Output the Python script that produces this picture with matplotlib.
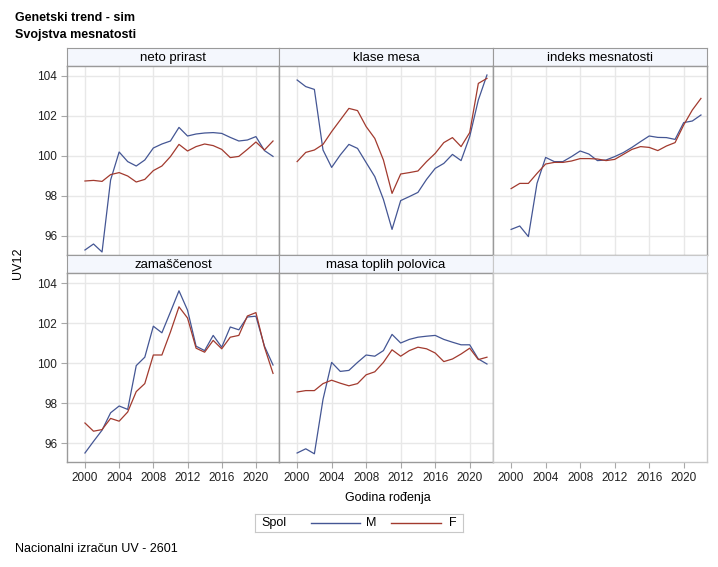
import matplotlib
matplotlib.use('Agg')
import matplotlib.pyplot as plt
from matplotlib.lines import Line2D

plt.rcParams['font.family'] = ['Liberation Sans', 'DejaVu Sans']

# Data
years = list(range(2000, 2023))
traits = ['neto prirast', 'klase mesa', 'indeks mesnatosti',
          'zamaščenost', 'masa toplih polovica']

neto_m = [95.3, 95.6, 95.2, 98.8, 100.2, 99.72, 99.5, 99.8, 100.4, 100.6, 100.75, 101.43,
          101.0, 101.1, 101.15, 101.17, 101.13, 100.93, 100.75, 100.8, 100.97, 100.27, 99.98]
neto_f = [98.75, 98.78, 98.73, 99.07, 99.17, 99.0, 98.7, 98.83, 99.27, 99.5, 99.97, 100.58,
          100.25, 100.47, 100.6, 100.52, 100.33, 99.92, 99.98, 100.33, 100.7, 100.3, 100.75]
klase_m = [103.8, 103.47, 103.33, 100.3, 99.43, 100.05, 100.58, 100.38, 99.67, 98.97, 97.83, 96.33,
           97.77, 97.97, 98.18, 98.83, 99.38, 99.63, 100.08, 99.77, 100.97, 102.8, 104.05]
klase_f = [99.72, 100.18, 100.3, 100.58, 101.22, 101.8, 102.38, 102.27, 101.47, 100.88, 99.8, 98.13,
           99.1, 99.17, 99.25, 99.72, 100.13, 100.67, 100.92, 100.47, 101.17, 103.63, 103.88]
indeks_m = [96.33, 96.5, 95.97, 98.63, 99.93, 99.72, 99.72, 99.97, 100.25, 100.1, 99.77, 99.8,
            99.97, 100.17, 100.43, 100.72, 101.0, 100.93, 100.92, 100.83, 101.67, 101.75, 102.05]
indeks_f = [98.37, 98.63, 98.63, 99.13, 99.6, 99.68, 99.68, 99.75, 99.87, 99.87, 99.85, 99.77,
            99.83, 100.08, 100.33, 100.47, 100.43, 100.27, 100.5, 100.67, 101.55, 102.3, 102.88]
zamas_m = [95.5, 96.08, 96.64, 97.51, 97.85, 97.68, 99.87, 100.29, 101.84, 101.51, 102.55, 103.61,
           102.64, 100.84, 100.62, 101.38, 100.79, 101.8, 101.66, 102.3, 102.34, 100.84, 99.9]
zamas_f = [97.0, 96.59, 96.67, 97.23, 97.09, 97.55, 98.57, 98.97, 100.4, 100.4, 101.55, 102.81,
           102.25, 100.74, 100.54, 101.13, 100.71, 101.29, 101.38, 102.35, 102.52, 100.79, 99.48]
masa_m = [95.5, 95.71, 95.46, 98.18, 100.03, 99.58, 99.63, 100.03, 100.4, 100.34, 100.62, 101.43,
          101.0, 101.18, 101.29, 101.34, 101.38, 101.18, 101.04, 100.91, 100.91, 100.2, 99.95]
masa_f = [98.55, 98.62, 98.62, 98.97, 99.14, 98.99, 98.86, 98.97, 99.41, 99.56, 100.03, 100.66,
          100.34, 100.62, 100.79, 100.71, 100.5, 100.07, 100.2, 100.45, 100.74, 100.17, 100.29]

series_m = [neto_m, klase_m, indeks_m, zamas_m, masa_m]
series_f = [neto_f, klase_f, indeks_f, zamas_f, masa_f]

x_ticks = [2000, 2004, 2008, 2012, 2016, 2020]
y_ticks = [96, 98, 100, 102, 104]

COLOR_M = '#445694'
COLOR_F = '#A23A2E'
GRID = '#E8E8E8'
BORDER = '#9A9A9A'
LIGHT_BORDER = '#C8C8C8'
HEADER_FILL = '#F4F7FD'

W, H = 718, 567
fig = plt.figure(figsize=(W / 100, H / 100), dpi=100)


def px_rect(x0, y0, x1, y1):
    """Pixel box (top-left origin) -> figure fraction rect."""
    return [x0 / W, 1 - y1 / H, (x1 - x0) / W, (y1 - y0) / H]


col_x = [(67, 279), (279, 493), (493, 707)]
row_y = [((48, 66), (66, 255)), ((255, 273), (273, 462))]

for idx in range(6):
    r, c = divmod(idx, 3)
    x0, x1 = col_x[c]
    (hy0, hy1), (py0, py1) = row_y[r]
    empty = idx >= len(traits)
    edge = LIGHT_BORDER if empty else BORDER

    hax = fig.add_axes(px_rect(x0, hy0, x1, hy1))
    hax.set_facecolor(HEADER_FILL)
    hax.set_xticks([])
    hax.set_yticks([])
    for sp in hax.spines.values():
        sp.set_color(LIGHT_BORDER if empty else BORDER)
    if not empty:
        hax.text(0.5, 0.45, traits[idx], ha='center', va='center', fontsize=9.5,
                 transform=hax.transAxes)

    ax = fig.add_axes(px_rect(x0, py0, x1, py1))
    ax.set_xlim(1997.9, 2022.7)
    ax.set_ylim(95.05, 104.5)
    for sp in ax.spines.values():
        sp.set_color(edge)
        sp.set_linewidth(1.0)

    ax.set_xticks(x_ticks)
    if not empty:
        ax.set_yticks(y_ticks)
        ax.grid(True, color=GRID, linewidth=1.0)
        ax.set_axisbelow(True)
        ax.plot(years, series_m[idx], color=COLOR_M, linewidth=0.9)
        ax.plot(years, series_f[idx], color=COLOR_F, linewidth=0.9)
    else:
        ax.set_yticks([])

    ax.tick_params(axis='both', direction='out', length=4, color='#A8A8A8',
                   labelsize=8.5, labelcolor='#222222', pad=3)
    if r == 0:
        ax.tick_params(axis='x', length=0, labelbottom=False)
    if c != 0:
        ax.tick_params(axis='y', length=0, labelleft=False)

fig.text(15 / W, 1 - 18 / H, 'Genetski trend - sim', fontsize=9, fontweight='bold',
         ha='left', va='center')
fig.text(15 / W, 1 - 35 / H, 'Svojstva mesnatosti', fontsize=9, fontweight='bold',
         ha='left', va='center')
fig.text(18 / W, 1 - 263 / H, 'UV12', rotation=90, fontsize=9, ha='center', va='center')
fig.text(388 / W, 1 - 498 / H, 'Godina rođenja', fontsize=9, ha='center', va='center')
fig.text(15 / W, 1 - 549 / H, 'Nacionalni izračun UV - 2601', fontsize=9,
         ha='left', va='center')

# legend box
lax = fig.add_axes(px_rect(255, 514, 463, 532))
lax.set_xlim(255, 463)
lax.set_ylim(0, 1)
lax.set_xticks([])
lax.set_yticks([])
for sp in lax.spines.values():
    sp.set_color(LIGHT_BORDER)
lax.text(261, 0.5, 'Spol', fontsize=9, ha='left', va='center')
lax.add_line(Line2D([311, 360], [0.5, 0.5], color=COLOR_M, linewidth=1.0))
lax.text(366, 0.5, 'M', fontsize=9, ha='left', va='center')
lax.add_line(Line2D([391, 441], [0.5, 0.5], color=COLOR_F, linewidth=1.0))
lax.text(449, 0.5, 'F', fontsize=9, ha='left', va='center')

fig.savefig('out.png', dpi=100)
